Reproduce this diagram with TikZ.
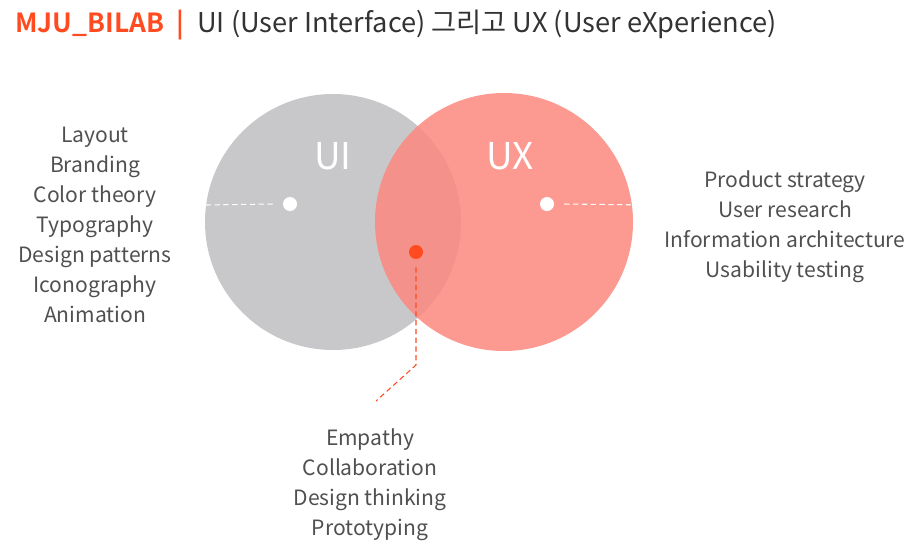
\documentclass[tikz,border=0pt]{standalone}
\usepackage{fontspec}
\setmainfont{Noto Sans CJK KR}[BoldFont={Noto Sans CJK KR Bold}]
\usetikzlibrary{positioning}

\definecolor{bilab}{RGB}{255,75,31}
\definecolor{uigray}{RGB}{200,200,202}
\definecolor{uxred}{RGB}{251,136,127}
\definecolor{textgray}{RGB}{80,80,80}

\begin{document}
\begin{tikzpicture}[
x=0.02cm, y=-0.02cm,
listtext/.style={align=center, text=textgray, font=\fontsize{12}{17}\selectfont},
bigletter/.style={text=white, font=\fontsize{21}{24}\selectfont},
whitedot/.style={circle, fill=white, inner sep=0pt, minimum size=14*0.02cm},
hint/.style={white, dashed, dash pattern=on 3pt off 2pt, line width=0.6pt},
leader/.style={bilab, dashed, dash pattern=on 3pt off 2pt, line width=0.6pt}
]
\useasboundingbox (0,0) rectangle (922,549);

% title
\node[anchor=base west, inner sep=0pt, text=bilab, font=\fontsize{15}{18}\selectfont\bfseries] (lab) at (15,32) {MJU\_BILAB};
\node[anchor=base west, inner sep=0pt, text=bilab, font=\fontsize{15}{18}\selectfont\bfseries] (bar) at (176,32) {|};
\node[anchor=base west, inner sep=0pt, text=black!80, font=\fontsize{15.5}{18}\selectfont] (title) at (197,32) {UI (User Interface) 그리고 UX (User eXperience)};

% venn circles
\fill[uigray] (333,222) circle (128);
\fill[uxred, opacity=0.85] (504,222) circle (129);
\node[bigletter] (ui) at (333,156) {UI};
\node[bigletter] (ux) at (510,156) {UX};

% markers
\node[whitedot] (uidot) at (290,204) {};
\node[whitedot] (uxdot) at (547,204) {};
\node[whitedot, fill=bilab] (both) at (416,252) {};
\coordinate (uiend) at (206,205);
\coordinate (uxend) at (650,205);
\coordinate (bend) at (416,365);
\coordinate (tail) at (376,401);

\draw[hint] (uidot.west) ++(-10,0) -- (uiend);
\draw[hint] (uxdot.east) ++(10,0) -- (uxend);
\draw[leader] (both.south) ++(0,8) -- (bend) -- (tail);

% lists
\node[listtext] (uilist) at (95,225) {Layout\\Branding\\Color theory\\Typography\\Design patterns\\Iconography\\Animation};
\node[listtext] (uxlist) at (785,227) {Product strategy\\User research\\Information architecture\\Usability testing};
\node[listtext] (bothlist) at (370,485) {Empathy\\Collaboration\\Design thinking\\Prototyping};

\end{tikzpicture}
\end{document}
